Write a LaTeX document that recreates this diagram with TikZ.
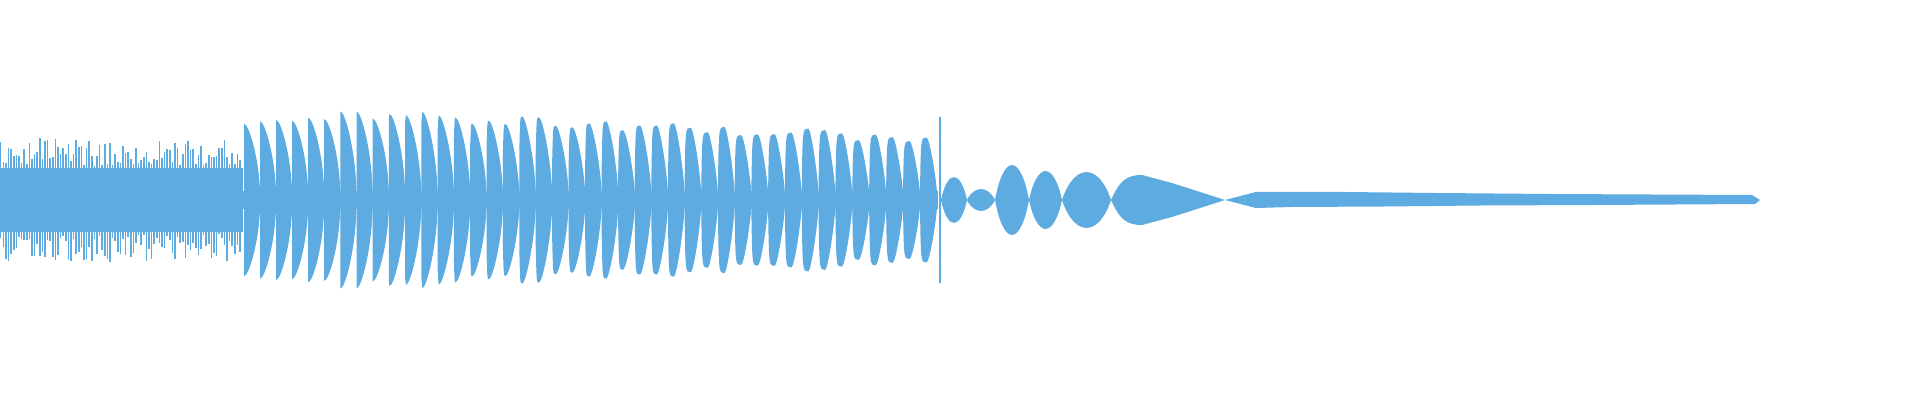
\documentclass[tikz,border=0pt]{standalone}
\definecolor{wave}{RGB}{93,171,225}
\tikzset{wv/.style={fill=wave}}
\begin{document}
\begin{tikzpicture}[x=0.01cm,y=0.01cm]
\useasboundingbox (0,-200) rectangle (1920,200);
\pgfmathsetseed{7}
% noisy start
\fill[wv] (0,-32) rectangle (243,32);
\foreach \x in {0,2.6,...,241}{
  \pgfmathsetmacro\a{34+28*rnd}
  \pgfmathsetmacro\b{34+28*rnd}
  \fill[wv] (\x,-\b) rectangle (\x+1.5,\a);
}
% central band
\fill[wv] (242,-9) rectangle (938,9);
% pulses
\xdef\xpos{244}
\foreach \i in {0,...,41}{
  \pgfmathsetmacro\P{16+1*\i/41}
  \pgfmathsetmacro\t{min(1,max(0,(\i-8)/20))}
  \pgfmathsetmacro\f{0.38*\t}
  \pgfmathsetmacro\A{(\i<10 ? 72+12*min(1,\i/5) : 84-22*(\i-10)/31)+5*rand}
  \pgfmathsetmacro\hz{\A*(1-\t)+9*\t}
  \pgfmathsetmacro\xa{\xpos}
  \pgfmathsetmacro\xp{\xpos+\f*\P}
  \pgfmathsetmacro\xb{\xpos+\P}
  \pgfmathsetmacro\ca{\xp+0.3*(\xb-\xp)}
  \pgfmathsetmacro\cb{\xb-0.05*\P}
  \pgfmathsetmacro\cc{\xa+0.05*\P}
  \pgfmathsetmacro\cy{(0.55-0.2*\t)*\A}
  \fill[wv] (\xa,0) -- (\xa,\hz) .. controls (\cc,\A) .. (\xp,\A)
     .. controls (\ca,\A) and (\cb,\cy) .. (\xb,7)
     -- (\xb,-7) .. controls (\cb,-\cy) and (\ca,-\A) .. (\xp,-\A)
     .. controls (\cc,-\A) .. (\xa,-\hz) -- cycle;
  \pgfmathsetmacro\nx{\xpos+\P}\xdef\xpos{\nx}
}
% spikes
\fill[wv] (930.5,-45) rectangle (931.5,45);
\fill[wv] (939.3,-83) rectangle (940.7,83);
% lenses
\foreach \a/\b/\A in {941/967/23,967/995/11,995/1029/35,1029/1062/29,1062/1111/28}{
  \pgfmathsetmacro\d{\b-\a}
  \fill[wv] (\a,0) .. controls (\a+0.25*\d,1.33*\A) and (\b-0.25*\d,1.33*\A) .. (\b,0)
     .. controls (\b-0.25*\d,-1.33*\A) and (\a+0.25*\d,-1.33*\A) .. (\a,0);
}
\fill[wv] (1111,0) .. controls (1120,20) and (1127,25) .. (1142,25) -- (1172,17) -- (1225,0)
   -- (1172,-17) -- (1142,-25) .. controls (1127,-25) and (1120,-20) .. (1111,0);
% tail
\fill[wv] (1225,0) -- (1256,8) -- (1345,8) -- (1437,7) -- (1551,6) -- (1752,5) -- (1760,0)
  -- (1755,-4) -- (1595,-5) -- (1481,-5.5) -- (1384,-6.5) -- (1293,-7) -- (1256,-8) -- cycle;
\end{tikzpicture}
\end{document}
